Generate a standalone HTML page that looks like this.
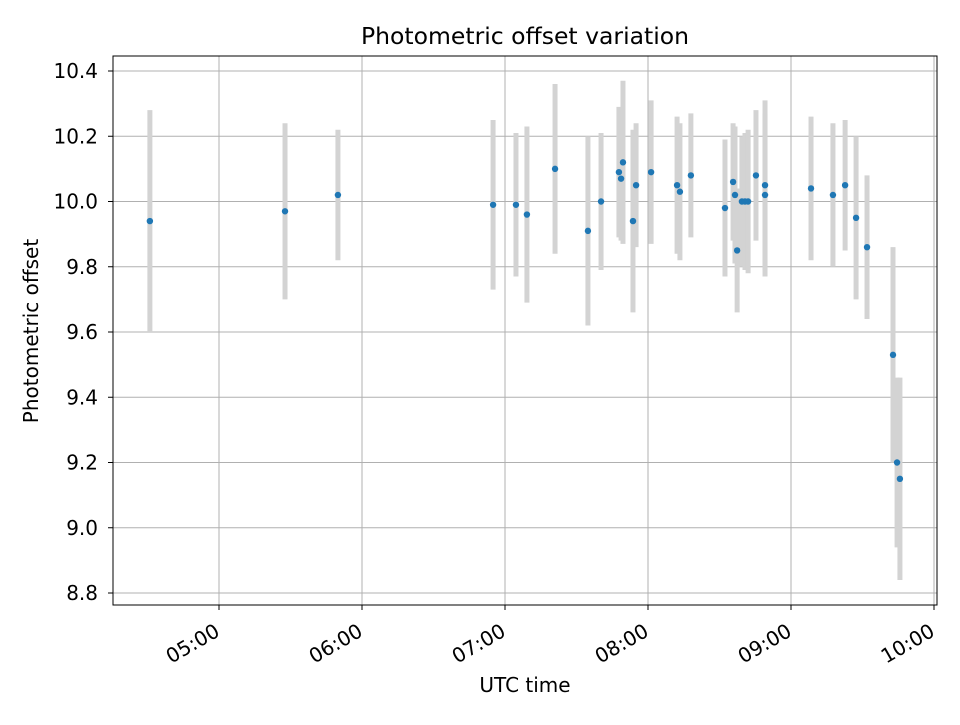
<!DOCTYPE html>
<html><head><meta charset="utf-8"><style>body{margin:0;background:#fff}svg text{font-family:"DejaVu Sans","Liberation Sans",sans-serif;fill:#000}</style></head>
<body>
<svg id="chart" width="960" height="720" xmlns="http://www.w3.org/2000/svg">
<rect width="960" height="720" fill="#fff"/>
<g id="grid"></g>
<g id="bars"></g>
<g id="pts"></g>
<rect x="113" y="56" width="824" height="549" fill="none" stroke="#000" stroke-width="1"/>
<g id="ticks"></g>
<text x="525" y="44" text-anchor="middle" font-size="23.5">Photometric offset variation</text>
<text x="525" y="692" text-anchor="middle" font-size="20">UTC time</text>
<text x="38" y="331" text-anchor="middle" font-size="20" transform="rotate(-90 38 331)">Photometric offset</text>
</svg>
<script>
const timesMin=[271.0,327.7,349.9,415.0,424.6,429.2,441.0,454.8,460.3,467.8,468.7,469.5,473.7,475.0,481.3,492.2,493.4,498.0,512.3,515.7,516.5,517.4,519.4,520.7,522.0,525.3,529.1,529.1,548.4,557.6,562.7,567.3,571.9,582.8,584.5,585.7];
const offsets=[9.94,9.97,10.02,9.99,9.99,9.96,10.10,9.91,10.00,10.09,10.07,10.12,9.94,10.05,10.09,10.05,10.03,10.08,9.98,10.06,10.02,9.85,10.00,10.00,10.00,10.08,10.05,10.02,10.04,10.02,10.05,9.95,9.86,9.53,9.20,9.15];
const errors=[0.34,0.27,0.20,0.26,0.22,0.27,0.26,0.29,0.21,0.20,0.19,0.25,0.28,0.19,0.22,0.21,0.21,0.19,0.21,0.18,0.21,0.19,0.20,0.21,0.22,0.20,0.26,0.25,0.22,0.22,0.20,0.25,0.22,0.33,0.26,0.31];
const yTicks=[8.8,9.0,9.2,9.4,9.6,9.8,10.0,10.2,10.4];
const xTicksMin=[300,360,420,480,540,600];
const xTickLabels=["05:00","06:00","07:00","08:00","09:00","10:00"];
const NS="http://www.w3.org/2000/svg";
const L=113,R=937,T=56,B=605;
function xS(m){return 219+(m-300)*143/60;}
function yS(v){return 71+(10.4-v)*326.25;}
function mk(tag,attrs,parent){const e=document.createElementNS(NS,tag);for(const k in attrs)e.setAttribute(k,attrs[k]);parent.appendChild(e);return e;}
const grid=document.getElementById('grid'),ticks=document.getElementById('ticks'),bars=document.getElementById('bars'),pts=document.getElementById('pts');
yTicks.forEach(v=>{const y=yS(v);
 const g=mk('line',{x1:L,x2:R,y1:y,y2:y,stroke:'#b0b0b0','stroke-width':1},grid);
 
 
 const t=mk('line',{x1:L-5,x2:L,y1:y,y2:y,stroke:'#000'},ticks);
 
 
 const tx=mk('text',{x:L-15,y:y+7,'text-anchor':'end','font-size':'20'},ticks);
 tx.textContent=v.toFixed(1);
 
 
});
xTicksMin.forEach((m,i)=>{const x=xS(m);
 const g=mk('line',{x1:x,x2:x,y1:T,y2:B,stroke:'#b0b0b0','stroke-width':1},grid);
 
 
 const t=mk('line',{x1:x,x2:x,y1:B,y2:B+5,stroke:'#000'},ticks);
 
 
 const ax=x+2, ay=B+30;
 const tx=mk('text',{x:ax,y:ay,'text-anchor':'end','font-size':'20',transform:`rotate(-30 ${ax} ${ay})`},ticks);
 tx.textContent=xTickLabels[i];
 
 
});
timesMin.forEach((m,i)=>{const x=xS(m);
 const b=mk('line',{x1:x,x2:x,y1:yS(offsets[i]+errors[i]),y2:yS(offsets[i]-errors[i]),stroke:'#d3d3d3','stroke-width':5},bars);
 
 
});
timesMin.forEach((m,i)=>{
 const c=mk('circle',{cx:xS(m),cy:yS(offsets[i]),r:3.2,fill:'#1f77b4'},pts);
 
 
});
</script>
</body></html>
